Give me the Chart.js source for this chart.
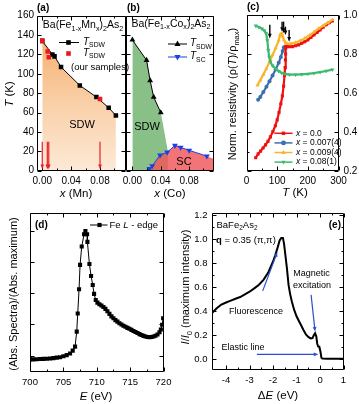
<!DOCTYPE html>
<html>
<head>
<meta charset="utf-8">
<title>phase diagrams and spectra</title>
<script src="https://cdn.jsdelivr.net/npm/chart.js@4.4.0/dist/chart.umd.min.js"></script>
<style>
  body { margin: 0; background: #fff; }
  #wrap { position: relative; width: 359px; height: 404px; }
  #wrap canvas { position: absolute; left: 0; top: 0; }
</style>
</head>
<body>
<div id="wrap">
  <canvas id="pa" width="359" height="404"></canvas>
  <canvas id="pb" width="359" height="404"></canvas>
  <canvas id="pc" width="359" height="404"></canvas>
  <canvas id="pd" width="359" height="404"></canvas>
  <canvas id="pe" width="359" height="404"></canvas>
</div>
<script>
// ---- (a) Ba(Fe1-xMnx)2As2
var mnX = [0.0, 0.014, 0.017, 0.026, 0.052, 0.075, 0.092, 0.102];
var mnTsdw = [134, 120, 118, 107, 88, 76, 65, 57];
var mnOurX = [0.0, 0.0075, 0.009, 0.08];
var mnOurT = [134, 123, 117, 74];
var mnArrowX = [0.0, 0.007, 0.009, 0.08];

// ---- (b) Ba(Fe1-xCox)2As2
var coX = [0.0, 0.02, 0.025, 0.03, 0.04];
var coTsdw = [135, 114, 93, 76, 60];
var coSdwEdgeX = [0.05, 0.05];      // lower end of the SDW region
var coSdwEdgeT = [20, 0];
var coScX = [0.024, 0.028, 0.039, 0.049, 0.06, 0.068, 0.08, 0.105];
var coTsc = [2, 5, 16, 19, 26, 24, 21, 15];
var coScEdgeX = [0.115];
var coScEdgeT = [12];

// tick values shared by (a) and (b)
var xTicksAB = [0, 0.04, 0.08];
var xLabelsAB = ['0.00', '0.04', '0.08'];
var xMinorAB = [0.02, 0.06, 0.10];
var yTicksAB = [0, 20, 40, 60, 80, 100, 120, 140, 160];
var yLabelsA = ['0', '20', '40', '60', '80', '100', '120', '140', '160'];

// ---- (c) normalised resistivity
var cSeries = ['0.0', '0.007(4)', '0.009(4)', '0.08(1)'];
var rT0 = [30, 38, 46, 54, 62, 70, 78, 86, 94, 100, 106, 112, 117, 121, 124, 126, 127, 127.5, 128, 128.5, 132, 140, 150, 160, 170, 180, 190, 200, 210, 220, 230, 240, 250, 260, 270, 280];
var rV0 = [0.268, 0.288, 0.302, 0.318, 0.334, 0.352, 0.375, 0.402, 0.432, 0.462, 0.5, 0.545, 0.585, 0.635, 0.69, 0.73, 0.77, 0.8, 0.83, 0.84, 0.838, 0.837, 0.838, 0.842, 0.847, 0.855, 0.863, 0.872, 0.885, 0.898, 0.91, 0.924, 0.938, 0.95, 0.96, 0.97];
var rT1 = [38, 45, 55, 65, 75, 85, 95, 105, 112, 118, 122];
var rV1 = [0.565, 0.58, 0.605, 0.632, 0.66, 0.69, 0.72, 0.755, 0.785, 0.815, 0.835];
var rT2 = [36, 45, 55, 65, 75, 85, 95, 105, 110, 115, 118, 122, 128, 135, 145, 160, 175, 190, 205, 220, 235, 250, 265, 280];
var rV2 = [0.64, 0.665, 0.695, 0.725, 0.76, 0.795, 0.83, 0.87, 0.9, 0.905, 0.89, 0.87, 0.857, 0.852, 0.853, 0.858, 0.868, 0.88, 0.895, 0.912, 0.93, 0.945, 0.96, 0.975];
var rT3 = [30, 40, 50, 58, 64, 68, 71, 74, 78, 85, 95, 105, 115, 125, 140, 160, 180, 200, 220, 240, 260, 280];
var rV3 = [0.945, 0.938, 0.93, 0.92, 0.905, 0.87, 0.82, 0.785, 0.76, 0.74, 0.725, 0.712, 0.703, 0.698, 0.694, 0.694, 0.696, 0.698, 0.702, 0.707, 0.713, 0.72];
var cArrowT = [76, 116, 121, 127, 139];
var cArrowTop = [0.95, 0.966, 0.966, 0.94, 0.923];
var cArrowEnd = [0.88, 0.914, 0.908, 0.897, 0.863];
var xTicksC = [0, 100, 200, 300];
var xLabelsC = ['0', '100', '200', '300'];
var yTicksC = [0.2, 0.4, 0.6, 0.8, 1.0];
var yLabelsC = ['0.2', '0.4', '0.6', '0.8', '1.0'];

// ---- (d) Fe L-edge absorption
var feE = [700, 700.5, 701, 701.5, 702, 702.5, 703, 703.5, 704, 704.5, 705, 705.5, 706, 706.4, 706.75, 707, 707.15, 707.35, 707.5, 707.75, 708.1, 708.3, 708.55, 708.6, 708.9, 709.15, 709.4, 709.6, 709.85, 710.1, 710.4, 710.7, 711, 711.3, 711.6, 711.9, 712.2, 712.5, 712.8, 713.1, 713.4, 713.7, 714, 714.3, 714.6, 714.9, 715.2, 715.5, 715.8, 716.1, 716.4, 716.7, 717, 717.3, 717.6, 717.9, 718.2, 718.5, 718.8, 719.1, 719.4, 719.6, 719.8, 719.95];
var feAbs = [0.176, 0.176, 0.177, 0.178, 0.179, 0.18, 0.182, 0.184, 0.187, 0.19, 0.196, 0.203, 0.214, 0.232, 0.258, 0.354, 0.47, 0.626, 0.782, 0.9, 0.979, 1.0, 0.979, 0.93, 0.788, 0.711, 0.653, 0.596, 0.557, 0.54, 0.53, 0.522, 0.512, 0.5, 0.485, 0.468, 0.452, 0.44, 0.428, 0.418, 0.408, 0.4, 0.392, 0.385, 0.378, 0.372, 0.365, 0.358, 0.352, 0.345, 0.338, 0.332, 0.327, 0.323, 0.32, 0.319, 0.32, 0.323, 0.328, 0.336, 0.35, 0.368, 0.398, 0.44];
var xTicksD = [700, 705, 710, 715, 720];
var xLabelsD = ['700', '705', '710', '715', '720'];
var xMinorD = [702.5, 707.5, 712.5, 717.5];
var yTicksD = [0.2, 0.4, 0.6, 0.8, 1.0];

// ---- (e) RIXS spectrum
var rixsE = [-4.6, -4.4, -4.2, -4.0, -3.8, -3.6, -3.4, -3.2, -3.0, -2.8, -2.6, -2.4, -2.2, -2.0, -1.9, -1.8, -1.72, -1.65, -1.58, -1.53, -1.47, -1.41, -1.34, -1.27, -1.2, -1.1, -1.0, -0.9, -0.8, -0.7, -0.6, -0.5, -0.4, -0.32, -0.26, -0.21, -0.16, -0.12, -0.08, -0.03, 0.02, 0.06, 0.1, 0.3, 0.6, 1.0];
var rixsI = [0.385, 0.424, 0.455, 0.472, 0.488, 0.503, 0.518, 0.54, 0.562, 0.59, 0.62, 0.663, 0.725, 0.815, 0.87, 0.935, 0.99, 1.012, 1.012, 0.96, 0.86, 0.76, 0.62, 0.54, 0.48, 0.41, 0.357, 0.318, 0.28, 0.24, 0.205, 0.185, 0.172, 0.175, 0.2, 0.215, 0.19, 0.13, 0.105, 0.103, 0.06, 0.01, 0.003, 0.002, 0.002, 0.002];
var xTicksE = [-4, -3, -2, -1, 0, 1];
var xLabelsE = ['-4', '-3', '-2', '-1', '0', '1'];
var yTicksE = [0, 0.2, 0.4, 0.6, 0.8, 1.0, 1.2];
var yLabelsE = ['0.0', '0.2', '0.4', '0.6', '0.8', '1.0', '1.2'];
// arrows: [from x, from y, to x, to y] in data units
var eArrowFluo = [-2.44, 0.569, -1.82, 0.893];
var eArrowMag = [-0.38, 0.536, -0.21, 0.229];
var eArrowElastic = [-2.69, 0.039, -0.07, 0.039];

var W = 359, H = 404;
var FONT = '"Liberation Sans", Arial, sans-serif';

function pts(xs, ys) {
  return xs.map(function (v, i) { return { x: v, y: ys[i] }; });
}

// mixed text: parts = [[text, flags]] flags: i italic, b bold, s subscript
function rich(ctx, parts, x, y, size, align, angle) {
  ctx.save();
  ctx.translate(x, y);
  if (angle) ctx.rotate(angle);
  var fontOf = function (p) {
    var f = p[1] || '';
    var sz = f.indexOf('s') >= 0 ? size * 0.68 : size;
    return (f.indexOf('i') >= 0 ? 'italic ' : '') + (f.indexOf('b') >= 0 ? 'bold ' : '') + sz + 'px ' + FONT;
  };
  var w = 0;
  parts.forEach(function (p) { ctx.font = fontOf(p); w += ctx.measureText(p[0]).width; });
  var cx = align === 'center' ? -w / 2 : (align === 'right' ? -w : 0);
  ctx.textBaseline = 'middle';
  ctx.textAlign = 'left';
  parts.forEach(function (p) {
    ctx.font = fontOf(p);
    var dy = (p[1] || '').indexOf('s') >= 0 ? size * 0.32 : 0;
    ctx.fillText(p[0], cx, dy);
    cx += ctx.measureText(p[0]).width;
  });
  ctx.restore();
}

function arrow(ctx, x1, y1, x2, y2, color, lw, head) {
  var ang = Math.atan2(y2 - y1, x2 - x1);
  ctx.save();
  ctx.strokeStyle = color;
  ctx.fillStyle = color;
  ctx.lineWidth = lw;
  ctx.beginPath();
  ctx.moveTo(x1, y1);
  ctx.lineTo(x2 - Math.cos(ang) * head * 0.8, y2 - Math.sin(ang) * head * 0.8);
  ctx.stroke();
  ctx.beginPath();
  ctx.moveTo(x2, y2);
  ctx.lineTo(x2 - head * Math.cos(ang - 0.38), y2 - head * Math.sin(ang - 0.38));
  ctx.lineTo(x2 - head * Math.cos(ang + 0.38), y2 - head * Math.sin(ang + 0.38));
  ctx.closePath();
  ctx.fill();
  ctx.restore();
}

function marker(ctx, style, x, y, r, color) {
  ctx.fillStyle = color;
  ctx.beginPath();
  if (style === 'rect') {
    ctx.rect(x - r * 0.72, y - r * 0.72, r * 1.44, r * 1.44);
  } else if (style === 'circle') {
    ctx.arc(x, y, r, 0, Math.PI * 2);
  } else {
    var d = style === 'down' ? -1 : 1;
    ctx.moveTo(x, y - d * r);
    ctx.lineTo(x + r * 0.9, y + d * r * 0.6);
    ctx.lineTo(x - r * 0.9, y + d * r * 0.6);
    ctx.closePath();
  }
  ctx.fill();
}

// box, inward ticks on all sides and tick labels
var frame = {
  id: 'frame',
  afterDraw: function (chart, args, o) {
    var ctx = chart.ctx, a = chart.chartArea;
    var sx = chart.scales.x, sy = chart.scales.y;
    var L = Math.round(a.left) + 0.5, R = Math.round(a.right) - 0.5;
    var T = Math.round(a.top) + 0.5, B = Math.round(a.bottom) - 0.5;
    ctx.save();
    ctx.strokeStyle = '#000';
    ctx.lineWidth = 1;
    ctx.beginPath();
    ctx.rect(L, T, R - L, B - T);
    function mark(v, len, isX) {
      var p;
      if (isX) {
        p = Math.round(sx.getPixelForValue(v)) + 0.5;
        ctx.moveTo(p, B); ctx.lineTo(p, B - len);
        ctx.moveTo(p, T); ctx.lineTo(p, T + len);
      } else {
        p = Math.round(sy.getPixelForValue(v)) + 0.5;
        ctx.moveTo(L, p); ctx.lineTo(L + len, p);
        ctx.moveTo(R, p); ctx.lineTo(R - len, p);
      }
    }
    o.xTicks.forEach(function (v) { mark(v, 4, true); });
    (o.xMinor || []).forEach(function (v) { mark(v, 2, true); });
    o.yTicks.forEach(function (v) { mark(v, 4, false); });
    (o.yMinor || []).forEach(function (v) { mark(v, 2, false); });
    ctx.stroke();
    ctx.fillStyle = '#000';
    ctx.font = o.size + 'px ' + FONT;
    ctx.textBaseline = 'middle';
    if (o.xLabels) {
      ctx.textAlign = 'center';
      o.xTicks.forEach(function (v, i) { ctx.fillText(o.xLabels[i], sx.getPixelForValue(v), B + 10.5); });
    }
    if (o.yLabels) {
      var right = o.ySide === 'right';
      ctx.textAlign = right ? 'left' : 'right';
      var px = right ? R + (o.yGap || 4) : L - (o.yGap || 4);
      o.yTicks.forEach(function (v, i) { ctx.fillText(o.yLabels[i], px, sy.getPixelForValue(v)); });
    }
    ctx.restore();
  }
};

function panel(id, area, xr, yr, datasets, frameOpts, notes) {
  return new Chart(document.getElementById(id), {
    type: 'line',
    data: { datasets: datasets },
    options: {
      responsive: false,
      animation: false,
      events: [],
      layout: { padding: { left: area[0], top: area[1], right: W - area[2], bottom: H - area[3] } },
      scales: {
        x: { type: 'linear', display: false, min: xr[0], max: xr[1] },
        y: { type: 'linear', display: false, min: yr[0], max: yr[1] }
      },
      elements: { line: { tension: 0 } },
      plugins: { legend: { display: false }, tooltip: { enabled: false }, frame: frameOpts }
    },
    plugins: [frame, { id: 'notes', afterDraw: notes }]
  });
}

// ---------------- (a)
panel('pa', [36.5, 15.7, 126, 170.7], [-0.008, 0.116], [0, 160], [
  { data: pts(mnOurX, mnOurT), showLine: false, pointStyle: 'rect', pointRadius: 3.2, pointBorderWidth: 0, pointBackgroundColor: '#f0141e' },
  { data: pts(mnX, mnTsdw), borderColor: '#000', borderWidth: 1, pointStyle: 'rect', pointRadius: 3.2, pointBorderWidth: 0, pointBackgroundColor: '#000' },
  { data: pts(mnX, mnTsdw), borderWidth: 0, pointRadius: 0, fill: 'origin',
    backgroundColor: function (c) {
      var a = c.chart.chartArea;
      if (!a) return 'rgba(0,0,0,0)';
      var g = c.chart.ctx.createLinearGradient(0, a.top, 0, a.bottom);
      g.addColorStop(0, '#f5a45a');
      g.addColorStop(0.55, '#f9cfa6');
      g.addColorStop(1, '#fde9d6');
      return g;
    } }
], { xTicks: xTicksAB, xLabels: xLabelsAB, xMinor: xMinorAB, yTicks: yTicksAB, yLabels: yLabelsA, size: 10, yGap: 3.5 },
function (chart) {
  var ctx = chart.ctx, sx = chart.scales.x, sy = chart.scales.y;
  mnArrowX.forEach(function (v) {
    var px = sx.getPixelForValue(v);
    arrow(ctx, px, sy.getPixelForValue(30), px, sy.getPixelForValue(1.5), '#e8202a', 1.2, 5);
  });
  ctx.fillStyle = '#000';
  rich(ctx, [['(a)', 'b']], 37, 8, 10, 'left');
  rich(ctx, [['Ba(Fe', ''], ['1-x', 's'], ['Mn', ''], ['x', 's'], [')', ''], ['2', 's'], ['As', ''], ['2', 's']], 83, 25.5, 10.5, 'center');
  ctx.strokeStyle = '#000'; ctx.lineWidth = 1;
  ctx.beginPath(); ctx.moveTo(59, 42.5); ctx.lineTo(79, 42.5); ctx.stroke();
  marker(ctx, 'rect', 68.5, 42.5, 3.2, '#000');
  marker(ctx, 'rect', 68.5, 53.5, 3.2, '#f0141e');
  ctx.fillStyle = '#000';
  rich(ctx, [['T', 'i'], ['SDW', 's']], 83, 42, 10, 'left');
  rich(ctx, [['T', 'i'], ['SDW', 's']], 83, 53, 10, 'left');
  rich(ctx, [['(our samples)', '']], 71, 67.5, 9.5, 'left');
  rich(ctx, [['SDW', '']], 82, 125, 11, 'center');
  rich(ctx, [['x', 'i'], [' (Mn)', '']], 76, 193.5, 11.5, 'center');
  rich(ctx, [['T', 'i'], [' (K)', '']], 9.5, 94, 11.5, 'center', -Math.PI / 2);
});

// ---------------- (b)
panel('pb', [126, 15.7, 214, 170.7], [-0.009, 0.115], [0, 160], [
  { data: pts(coX, coTsdw), borderColor: '#000', borderWidth: 1, pointStyle: 'triangle', pointRadius: 3.4, pointBorderWidth: 0, pointBackgroundColor: '#000' },
  { data: pts(coScX, coTsc), borderColor: '#1f3fe0', borderWidth: 1, pointStyle: 'triangle', rotation: 180, pointRotation: 180, pointRadius: 3.4, pointBorderWidth: 0, pointBackgroundColor: '#1f3fe0' },
  { data: pts(coScX.concat(coScEdgeX), coTsc.concat(coScEdgeT)), borderWidth: 0, pointRadius: 0, fill: 'origin', backgroundColor: 'rgba(240,86,88,0.82)' },
  { data: pts(coX.concat(coSdwEdgeX), coTsdw.concat(coSdwEdgeT)), borderWidth: 0, pointRadius: 0, fill: 'origin', backgroundColor: 'rgb(136,192,136)' }
], { xTicks: xTicksAB, xLabels: xLabelsAB, xMinor: xMinorAB, yTicks: yTicksAB, size: 10 },
function (chart) {
  var ctx = chart.ctx;
  ctx.fillStyle = '#000';
  rich(ctx, [['(b)', 'b']], 127, 8, 10, 'left');
  rich(ctx, [['Ba(Fe', ''], ['1-x', 's'], ['Co', ''], ['x', 's'], [')', ''], ['2', 's'], ['As', ''], ['2', 's']], 171, 24, 10.5, 'center');
  ctx.strokeStyle = '#000'; ctx.lineWidth = 1;
  ctx.beginPath(); ctx.moveTo(168, 44); ctx.lineTo(187, 44); ctx.stroke();
  marker(ctx, 'up', 177.5, 44, 3.4, '#000');
  ctx.strokeStyle = '#1f3fe0';
  ctx.beginPath(); ctx.moveTo(168, 57); ctx.lineTo(187, 57); ctx.stroke();
  marker(ctx, 'down', 177.5, 57, 3.4, '#1f3fe0');
  ctx.fillStyle = '#000';
  rich(ctx, [['T', 'i'], ['SDW', 's']], 190, 43.5, 10, 'left');
  rich(ctx, [['T', 'i'], ['SC', 's']], 190, 56.5, 10, 'left');
  rich(ctx, [['SDW', '']], 147, 126.5, 11, 'center');
  rich(ctx, [['SC', '']], 184, 161.5, 11, 'center');
  rich(ctx, [['x', 'i'], [' (Co)', '']], 170, 193.5, 11.5, 'center');
});

// ---------------- (c)
var cColors = ['#ee1111', '#3a6fb0', '#f9b52a', '#3dba6e'];
var cStyles = ['rect', 'circle', 'up', 'down'];
function cSet(xs, ys, color, style, r) {
  return {
    data: pts(xs, ys), borderColor: color, borderWidth: 2.2, pointRadius: r, pointBorderWidth: 0,
    pointBackgroundColor: color, pointStyle: style === 'rect' ? 'rect' : (style === 'circle' ? 'circle' : 'triangle'),
    pointRotation: style === 'down' ? 180 : 0
  };
}
panel('pc', [246.5, 15, 338.5, 171], [0, 300], [0.2, 1.0], [
  cSet(rT3, rV3, cColors[3], cStyles[3], 2.4),
  cSet(rT2, rV2, cColors[2], cStyles[2], 2.4),
  cSet(rT0, rV0, cColors[0], cStyles[0], 2.2),
  cSet(rT1, rV1, cColors[1], cStyles[1], 2)
], { xTicks: xTicksC, xLabels: xLabelsC, xMinor: [50, 150, 250], yTicks: yTicksC, yLabels: yLabelsC, yMinor: [0.3, 0.5, 0.7, 0.9], ySide: 'right', yGap: 5, size: 10 },
function (chart) {
  var ctx = chart.ctx, sx = chart.scales.x, sy = chart.scales.y;
  cArrowT.forEach(function (t, i) {
    var px = sx.getPixelForValue(t);
    arrow(ctx, px, sy.getPixelForValue(cArrowTop[i]), px, sy.getPixelForValue(cArrowEnd[i]), '#000', 1.4, 5);
  });
  cSeries.forEach(function (s, i) {
    var y = 133.3 + i * 9.6;
    ctx.strokeStyle = cColors[i]; ctx.lineWidth = 1.5;
    ctx.beginPath(); ctx.moveTo(274.5, y); ctx.lineTo(292.5, y); ctx.stroke();
    marker(ctx, cStyles[i], 283.5, y, 2.4, cColors[i]);
    ctx.fillStyle = '#000';
    rich(ctx, [['x', 'i'], [' = ' + s, '']], 296, y, 8.5, 'left');
  });
  ctx.fillStyle = '#000';
  rich(ctx, [['(c)', 'b']], 247, 7.5, 10, 'left');
  rich(ctx, [['T', 'i'], [' (K)', '']], 295, 192.5, 11.5, 'center');
  rich(ctx, [['Norm. resistivity (\u03c1(', ''], ['T', 'i'], [')/\u03c1', ''], ['max', 's'], [')', '']], 233, 94, 11, 'center', -Math.PI / 2);
});

// ---------------- (d)
panel('pd', [30, 213, 163.5, 372], [700, 720], [0.095, 1.115], [
  { data: pts(feE, feAbs), borderColor: '#000', borderWidth: 1, pointStyle: 'rect', pointRadius: 2.9, pointBorderWidth: 0, pointBackgroundColor: '#000' }
], { xTicks: xTicksD, xLabels: xLabelsD, xMinor: xMinorD, yTicks: yTicksD, size: 9.5 },
function (chart) {
  var ctx = chart.ctx;
  ctx.fillStyle = '#000';
  rich(ctx, [['(d)', 'b']], 35, 225.5, 10, 'left');
  ctx.strokeStyle = '#000'; ctx.lineWidth = 1;
  ctx.beginPath(); ctx.moveTo(90, 225); ctx.lineTo(107.5, 225); ctx.stroke();
  marker(ctx, 'rect', 99.5, 225, 2.9, '#000');
  ctx.fillStyle = '#000';
  rich(ctx, [['Fe ', ''], ['L', 'i'], [' - edge', '']], 109.5, 225, 9.5, 'left');
  rich(ctx, [['E', 'i'], [' (eV)', '']], 96, 396.5, 11.5, 'center');
  rich(ctx, [['(Abs. Spectra)/(Abs. maximum)', '']], 13.5, 294, 11, 'center', -Math.PI / 2);
});

// ---------------- (e)
panel('pe', [212, 213, 343.5, 370], [-4.6, 1.0], [-0.092, 1.22], [
  { data: pts(rixsE, rixsI), borderColor: '#000', borderWidth: 2, pointRadius: 0 }
], { xTicks: xTicksE, xLabels: xLabelsE, xMinor: [-3.5, -2.5, -1.5, -0.5, 0.5], yTicks: yTicksE, yLabels: yLabelsE, yMinor: [0.1, 0.3, 0.5, 0.7, 0.9, 1.1], yGap: 5, size: 9.5 },
function (chart) {
  var ctx = chart.ctx, sx = chart.scales.x, sy = chart.scales.y;
  [eArrowFluo, eArrowMag, eArrowElastic].forEach(function (ar) {
    arrow(ctx, sx.getPixelForValue(ar[0]), sy.getPixelForValue(ar[1]), sx.getPixelForValue(ar[2]), sy.getPixelForValue(ar[3]), '#2a4fd0', 1.2, 5);
  });
  ctx.fillStyle = '#000';
  rich(ctx, [['BaFe', ''], ['2', 's'], ['As', ''], ['2', 's']], 216.5, 225.5, 9.5, 'left');
  rich(ctx, [['(e)', 'b']], 341, 225.5, 10, 'right');
  rich(ctx, [['q', 'b'], [' = 0.35 (\u03c0,\u03c0)', '']], 216, 240, 9.5, 'left');
  rich(ctx, [['Magnetic', '']], 311.5, 274, 9, 'center');
  rich(ctx, [['excitation', '']], 312, 285.5, 9, 'center');
  rich(ctx, [['Fluorescence', '']], 256, 312, 9, 'center');
  rich(ctx, [['Elastic line', '']], 243, 347.5, 9, 'center');
  rich(ctx, [['\u0394', ''], ['E', 'i'], [' (eV)', '']], 278, 396, 11.5, 'center');
  rich(ctx, [['I', 'i'], ['/', ''], ['I', 'i'], ['0', 's'], [' (maximum intensity)', '']], 186, 287, 11, 'center', -Math.PI / 2);
});
</script>
</body>
</html>
